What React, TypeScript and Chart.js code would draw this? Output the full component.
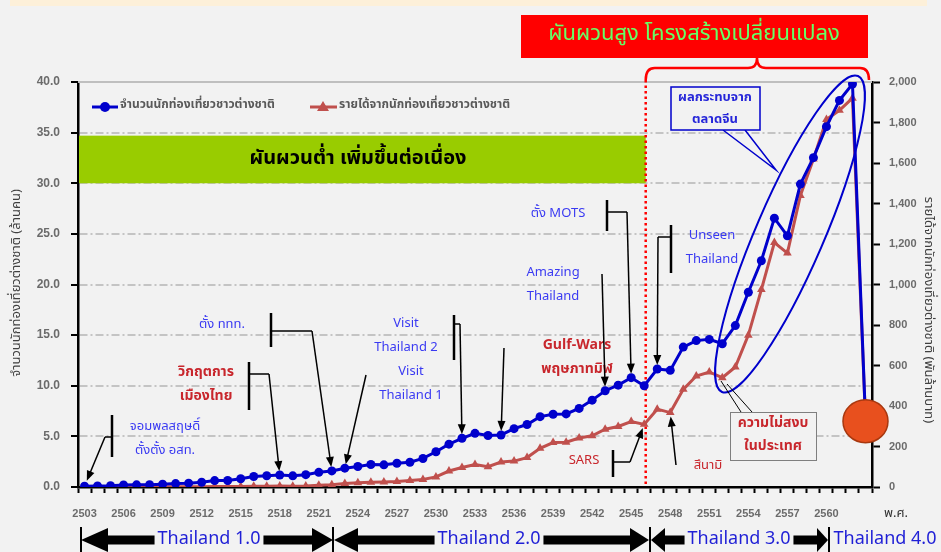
import React, { useEffect, useRef } from 'react';
import { Chart, registerables } from 'chart.js';

Chart.register(...registerables);

const years = [
  '2503','2504','2505','2506','2507','2508','2509','2510','2511','2512',
  '2513','2514','2515','2516','2517','2518','2519','2520','2521','2522',
  '2523','2524','2525','2526','2527','2528','2529','2530','2531','2532',
  '2533','2534','2535','2536','2537','2538','2539','2540','2541','2542',
  '2543','2544','2545','2546','2547','2548','2549','2550','2551','2552',
  '2553','2554','2555','2556','2557','2558','2559','2560','2561','2562',
  '2563',
];

// foreign tourist arrivals (million persons)
const tourists = [
  0.08, 0.11, 0.13, 0.20, 0.21, 0.23, 0.28, 0.34, 0.38, 0.47,
  0.63, 0.64, 0.82, 1.04, 1.11, 1.18, 1.10, 1.22, 1.45, 1.59,
  1.86, 2.02, 2.22, 2.19, 2.35, 2.44, 2.82, 3.48, 4.23, 4.81,
  5.30, 5.09, 5.14, 5.76, 6.17, 6.95, 7.19, 7.22, 7.76, 8.58,
  9.51, 10.06, 10.80, 10.00, 11.65, 11.52, 13.82, 14.46, 14.58, 14.15,
  15.94, 19.23, 22.35, 26.55, 24.81, 29.92, 32.53, 35.59, 38.18, 39.80,
  6.70,
];

// revenue from foreign tourists (billion baht)
const revenue = [
  0.2, 0.25, 0.3, 0.4, 0.5, 0.5, 0.8, 1.0, 1.3, 1.8,
  2.2, 2.2, 2.7, 3.5, 3.9, 4.5, 4.0, 4.6, 8.9, 11.2,
  17.8, 21.5, 23.9, 25.1, 27.3, 31.8, 37.3, 50.0, 78.9, 96.4,
  110.6, 100.0, 123.1, 127.8, 145.2, 190.8, 219.4, 220.8, 242.2, 253.0,
  285.3, 299.0, 323.5, 309.3, 384.4, 367.4, 482.3, 547.8, 568.0, 540.0,
  592.8, 750.0, 975.0, 1207.1, 1155.0, 1440.0, 1620.0, 1815.0, 1860.0, 1920.0,
  332.0,
];

const seriesNames = ['จำนวนนักท่องเที่ยวชาวต่างชาติ', 'รายได้จากนักท่องเที่ยวชาวต่างชาติ'];
const leftTitle = 'จำนวนนักท่องเที่ยวต่างชาติ (ล้านคน)';
const rightTitle = 'รายได้จากนักท่องเที่ยวต่างชาติ (พันล้านบาท)';

const FONT = "Tahoma, 'Noto Sans Thai', 'Noto Sans', 'Liberation Sans', sans-serif";
const BLUE = '#0000cc';
const RED = '#c0504d';
const NB = '#3a3af2';
const NR = '#c8262c';

type Note = {
  lines: string[]; color: string; bold?: boolean; cx: number; cy: number;
  bar?: [number, number, number]; path: [number, number][]; series: 't' | 'r'; idx: number; gap?: number;
};

const notes: Note[] = [
  { lines: ['จอมพลสฤษดิ์', 'ตั้งตั้ง อสท.'], color: NB, cx: 165, cy: 427, bar: [112, 415, 457], path: [[112, 437], [105, 437]], series: 't', idx: 0, gap: 6 },
  { lines: ['วิกฤตการ', 'เมืองไทย'], color: NR, bold: true, cx: 206, cy: 373, bar: [249, 362, 410], path: [[249, 374], [269, 374]], series: 't', idx: 15 },
  { lines: ['ตั้ง ททท.'], color: NB, cx: 222, cy: 325, bar: [271, 313, 347], path: [[271, 331], [312, 331]], series: 't', idx: 19 },
  { lines: ['Visit', 'Thailand 2'], color: NB, cx: 406, cy: 324, bar: [454, 315, 360], path: [[454, 324], [460, 324]], series: 't', idx: 29 },
  { lines: ['Visit', 'Thailand 1'], color: NB, cx: 411, cy: 372, path: [[366, 375]], series: 't', idx: 20 },
  { lines: ['Gulf-Wars', 'พฤษภาทมิฬ'], color: NR, bold: true, cx: 577, cy: 346, path: [[504, 348]], series: 't', idx: 32 },
  { lines: ['Amazing', 'Thailand'], color: NB, cx: 553, cy: 273, path: [[602, 274]], series: 't', idx: 40 },
  { lines: ['ตั้ง MOTS'], color: NB, cx: 558, cy: 214, bar: [607, 200, 231], path: [[607, 212], [627, 212]], series: 't', idx: 42 },
  { lines: ['Unseen', 'Thailand'], color: NB, cx: 712, cy: 236, bar: [671, 225, 273], path: [[671, 237], [658, 237]], series: 't', idx: 44 },
  { lines: ['SARS'], color: NR, cx: 584, cy: 461, bar: [613, 450, 477], path: [[613, 462], [630, 462]], series: 'r', idx: 43 },
  { lines: ['สึนามิ'], color: NR, cx: 708, cy: 466, path: [[676, 465]], series: 'r', idx: 45 },
];

const eras = [
  { label: 'Thailand 1.0', x1: 81, x2: 333, cx: 209, hl: 27, hr: 21 },
  { label: 'Thailand 2.0', x1: 334, x2: 649, cx: 489, hl: 24, hr: 19 },
  { label: 'Thailand 3.0', x1: 651, x2: 828, cx: 739, hl: 14, hr: 11 },
];

function txt(ctx: CanvasRenderingContext2D, s: string, x: number, y: number, size: number, color: string, bold = false, align: CanvasTextAlign = 'center') {
  ctx.font = `${bold ? 'bold ' : ''}${size}px ${FONT}`;
  ctx.fillStyle = color;
  ctx.textAlign = align;
  ctx.textBaseline = 'middle';
  ctx.fillText(s, x, y);
}

function arrowTo(ctx: CanvasRenderingContext2D, x0: number, y0: number, x1: number, y1: number) {
  const a = Math.atan2(y1 - y0, x1 - x0);
  const L = 10, W = 4;
  ctx.beginPath();
  ctx.moveTo(x0, y0);
  ctx.lineTo(x1 - L * 0.7 * Math.cos(a), y1 - L * 0.7 * Math.sin(a));
  ctx.stroke();
  ctx.beginPath();
  ctx.moveTo(x1, y1);
  ctx.lineTo(x1 - L * Math.cos(a) + W * Math.sin(a), y1 - L * Math.sin(a) - W * Math.cos(a));
  ctx.lineTo(x1 - L * Math.cos(a) - W * Math.sin(a), y1 - L * Math.sin(a) + W * Math.cos(a));
  ctx.closePath();
  ctx.fill();
}

const deco = {
  id: 'deco',
  beforeDraw(chart: any) {
    const ctx: CanvasRenderingContext2D = chart.ctx;
    ctx.save();
    ctx.fillStyle = '#f2f2f2';
    ctx.fillRect(0, 0, chart.width, chart.height);
    ctx.fillStyle = '#fdf0d9';
    ctx.fillRect(10, 0, 917, 6);
    ctx.restore();
  },
  beforeDatasetsDraw(chart: any) {
    const ctx: CanvasRenderingContext2D = chart.ctx;
    const { left, right, top, bottom } = chart.chartArea;
    const xs = chart.scales.x, yl = chart.scales.y;
    ctx.save();
    ctx.strokeStyle = '#bfbfbf';
    ctx.lineWidth = 2;
    ctx.beginPath();
    ctx.moveTo(left, top);
    ctx.lineTo(right, top);
    ctx.stroke();
    const xDiv = xs.getPixelForValue(43) + 1.5;
    const gy1 = yl.getPixelForValue(34.7), gy2 = yl.getPixelForValue(30);
    ctx.fillStyle = '#99cc00';
    ctx.fillRect(left + 1, gy1, xDiv - left - 1, gy2 - gy1);
    txt(ctx, 'ผันผวนต่ำ เพิ่มขึ้นต่อเนื่อง', 358, (gy1 + gy2) / 2, 20, '#000', true);
    ctx.strokeStyle = '#ff0000';
    ctx.lineWidth = 2.5;
    ctx.setLineDash([2.5, 3]);
    ctx.beginPath();
    ctx.moveTo(xDiv, 80);
    ctx.lineTo(xDiv, bottom);
    ctx.stroke();
    ctx.setLineDash([]);
    ctx.restore();
  },
  afterDraw(chart: any) {
    const ctx: CanvasRenderingContext2D = chart.ctx;
    const xs = chart.scales.x, yl = chart.scales.y, yr = chart.scales.y1;
    ctx.save();

    // legend
    ctx.lineWidth = 3;
    ctx.strokeStyle = BLUE; ctx.fillStyle = BLUE;
    ctx.beginPath(); ctx.moveTo(92, 107); ctx.lineTo(118, 107); ctx.stroke();
    ctx.beginPath(); ctx.arc(105, 107, 5, 0, Math.PI * 2); ctx.fill();
    txt(ctx, seriesNames[0], 120, 106, 12, '#595959', true, 'left');
    ctx.strokeStyle = RED; ctx.fillStyle = RED;
    ctx.beginPath(); ctx.moveTo(310, 107); ctx.lineTo(337, 107); ctx.stroke();
    ctx.beginPath(); ctx.moveTo(323, 101); ctx.lineTo(329, 111); ctx.lineTo(317, 111); ctx.closePath(); ctx.fill();
    txt(ctx, seriesNames[1], 339, 106, 12, '#595959', true, 'left');

    // axis titles
    ctx.save();
    ctx.translate(17, 283); ctx.rotate(-Math.PI / 2);
    txt(ctx, leftTitle, 0, 0, 13, '#404040');
    ctx.restore();
    ctx.save();
    ctx.translate(928, 310); ctx.rotate(Math.PI / 2);
    txt(ctx, rightTitle, 0, 0, 13, '#404040');
    ctx.restore();
    txt(ctx, 'พ.ศ.', 896, 514, 13, '#333');

    // notes
    for (const n of notes) {
      n.lines.forEach((l, i) => txt(ctx, l, n.cx, n.cy + i * 24, n.bold ? 14 : 13, n.color, !!n.bold));
      ctx.strokeStyle = '#000'; ctx.fillStyle = '#000';
      if (n.bar) {
        ctx.lineWidth = 2.5;
        ctx.beginPath(); ctx.moveTo(n.bar[0], n.bar[1]); ctx.lineTo(n.bar[0], n.bar[2]); ctx.stroke();
      }
      ctx.lineWidth = 1.5;
      ctx.beginPath();
      n.path.forEach((p, i) => (i === 0 ? ctx.moveTo(p[0], p[1]) : ctx.lineTo(p[0], p[1])));
      ctx.stroke();
      const px = xs.getPixelForValue(n.idx);
      const py = n.series === 't' ? yl.getPixelForValue(tourists[n.idx]) : yr.getPixelForValue(revenue[n.idx]);
      const last = n.path[n.path.length - 1];
      const d = Math.hypot(px - last[0], py - last[1]);
      const g = n.gap ?? 4;
      const tx = px - (px - last[0]) / d * g, ty = py - (py - last[1]) / d * g;
      arrowTo(ctx, last[0], last[1], tx, ty);
    }

    // ellipse
    ctx.strokeStyle = BLUE; ctx.lineWidth = 2;
    ctx.beginPath();
    ctx.ellipse(790, 234, 172, 34, -66.7 * Math.PI / 180, 0, Math.PI * 2);
    ctx.stroke();

    // china callout
    ctx.lineWidth = 1.5;
    ctx.beginPath();
    ctx.moveTo(723, 130); ctx.lineTo(776, 170); ctx.lineTo(745, 130);
    ctx.stroke();
    ctx.fillStyle = '#f2f2f2';
    ctx.fillRect(671, 87, 89, 43);
    ctx.strokeRect(671, 87, 89, 43);
    txt(ctx, 'ผลกระทบจาก', 715, 98, 13, '#2626d9', true);
    txt(ctx, 'ตลาดจีน', 715, 120, 13, '#2626d9', true);

    // unrest callout
    ctx.strokeStyle = '#000'; ctx.lineWidth = 1;
    ctx.beginPath();
    ctx.moveTo(741, 412); ctx.lineTo(721, 381);
    ctx.moveTo(752, 412); ctx.lineTo(727, 384);
    ctx.stroke();
    ctx.fillStyle = '#f2f2f2';
    ctx.fillRect(730, 412, 86, 48);
    ctx.strokeStyle = '#7f7f7f';
    ctx.strokeRect(730.5, 412.5, 86, 48);
    txt(ctx, 'ความไม่สงบ', 773, 424, 14, NR, true);
    txt(ctx, 'ในประเทศ', 773, 447, 14, NR, true);

    // top red title box + brace
    ctx.fillStyle = '#ff0000';
    ctx.fillRect(521, 15, 347, 43);
    txt(ctx, 'ผันผวนสูง โครงสร้างเปลี่ยนแปลง', 694, 36, 22, '#66ff66');
    ctx.strokeStyle = '#ff0000'; ctx.lineWidth = 2.5;
    const xl = xs.getPixelForValue(43) + 1.5, xr = 869, xc = 757, yEnd = 80, yLine = 68, yTip = 58, r = 9;
    ctx.beginPath();
    ctx.moveTo(xl, yEnd);
    ctx.quadraticCurveTo(xl, yLine, xl + r, yLine);
    ctx.lineTo(xc - r, yLine);
    ctx.quadraticCurveTo(xc, yLine, xc, yTip);
    ctx.quadraticCurveTo(xc, yLine, xc + r, yLine);
    ctx.lineTo(xr - r, yLine);
    ctx.quadraticCurveTo(xr, yLine, xr, yEnd);
    ctx.stroke();

    // orange circle at last year
    const cx = xs.getPixelForValue(60), cy = yl.getPixelForValue(6.5);
    ctx.fillStyle = '#e8501e'; ctx.strokeStyle = '#a8380f'; ctx.lineWidth = 1.5;
    ctx.beginPath(); ctx.ellipse(cx, cy, 22.5, 21.5, 0, 0, Math.PI * 2); ctx.fill(); ctx.stroke();

    // eras
    ctx.strokeStyle = '#000'; ctx.lineWidth = 2;
    const ay = 540;
    for (const e of eras) {
      ctx.font = `18px ${FONT}`;
      const w = ctx.measureText(e.label).width;
      ctx.fillStyle = '#000';
      ctx.beginPath(); ctx.moveTo(e.x1, ay); ctx.lineTo(e.x1 + e.hl, ay - 12); ctx.lineTo(e.x1 + e.hl, ay + 12); ctx.closePath(); ctx.fill();
      ctx.beginPath(); ctx.moveTo(e.x2, ay); ctx.lineTo(e.x2 - e.hr, ay - 12); ctx.lineTo(e.x2 - e.hr, ay + 12); ctx.closePath(); ctx.fill();
      ctx.fillRect(e.x1 + e.hl - 1, ay - 4.5, e.cx - w / 2 - 3 - (e.x1 + e.hl - 1), 9);
      ctx.fillRect(e.cx + w / 2 + 3, ay - 4.5, e.x2 - e.hr + 1 - (e.cx + w / 2 + 3), 9);
      txt(ctx, e.label, e.cx, ay, 18, '#1f1fd6');
    }
    txt(ctx, 'Thailand 4.0', 885, ay, 18, '#1f1fd6');
    for (const vx of [81, 333, 650, 829]) {
      ctx.beginPath(); ctx.moveTo(vx, 527); ctx.lineTo(vx, 552); ctx.stroke();
    }
    ctx.restore();
  },
};

export default function App() {
  const ref = useRef<HTMLCanvasElement>(null);
  useEffect(() => {
    if (!ref.current) return;
    const tickFont = { family: "'Liberation Sans', Arial, sans-serif", size: 11, weight: 'bold' as const };
    const chart = new Chart(ref.current, {
      type: 'line',
      data: {
        labels: years,
        datasets: [
          {
            label: seriesNames[0], data: tourists, yAxisID: 'y',
            borderColor: BLUE, backgroundColor: BLUE, borderWidth: 3,
            pointStyle: 'circle', pointRadius: 4.5, pointBorderWidth: 0, tension: 0,
          },
          {
            label: seriesNames[1], data: revenue, yAxisID: 'y1',
            borderColor: RED, backgroundColor: RED, borderWidth: 3,
            pointStyle: 'triangle', pointRadius: 5, pointBorderWidth: 0, tension: 0,
          },
        ],
      },
      options: {
        responsive: false,
        animation: false,
        devicePixelRatio: 1,
        layout: { padding: { top: 82, left: 0, right: 0, bottom: 0 } },
        plugins: { legend: { display: false }, tooltip: { enabled: false } },
        scales: {
          x: {
            type: 'category', offset: true,
            grid: { display: true, drawOnChartArea: false, offset: true, tickLength: 6, tickWidth: 2, tickColor: '#000' },
            border: { display: true, color: '#000', width: 2.5 },
            ticks: {
              autoSkip: false, maxRotation: 0, minRotation: 0, padding: 14, font: tickFont, color: '#6b6b6b',
              callback: (v: any, i: number) => (i % 3 === 0 && i < 60 ? years[i] : ''),
            },
            afterFit: (s: any) => { s.height = 65; },
          },
          y: {
            position: 'left', min: 0, max: 40,
            ticks: { stepSize: 5, padding: 11, font: { ...tickFont, size: 12 }, color: '#6b6b6b', callback: (v: any) => Number(v).toFixed(1) },
            grid: {
              color: (c: any) => (c.tick && (c.tick.value === 40 || c.tick.value === 0) ? 'rgba(0,0,0,0)' : '#c4c4c4'),
              lineWidth: 2, tickLength: 7, tickColor: '#000', tickWidth: 2,
            },
            border: { display: true, color: '#000', width: 2.5, dash: [8, 3, 2, 3] },
            afterFit: (s: any) => { s.width = 78; },
          },
          y1: {
            position: 'right', min: 0, max: 2000,
            ticks: { stepSize: 200, padding: 9, font: tickFont, color: '#6b6b6b', callback: (v: any) => Number(v).toLocaleString('en-US') },
            grid: { drawOnChartArea: false, tickLength: 8, tickColor: '#000', tickWidth: 2 },
            border: { display: true, color: '#000', width: 2.5 },
            afterFit: (s: any) => { s.width = 69; },
          },
        },
      },
      plugins: [deco],
    });
    return () => chart.destroy();
  }, []);
  return (
    <div style={{ position: 'fixed', left: 0, top: 0, width: 941, height: 552 }}>
      <canvas ref={ref} width={941} height={552} style={{ display: 'block' }} />
    </div>
  );
}
